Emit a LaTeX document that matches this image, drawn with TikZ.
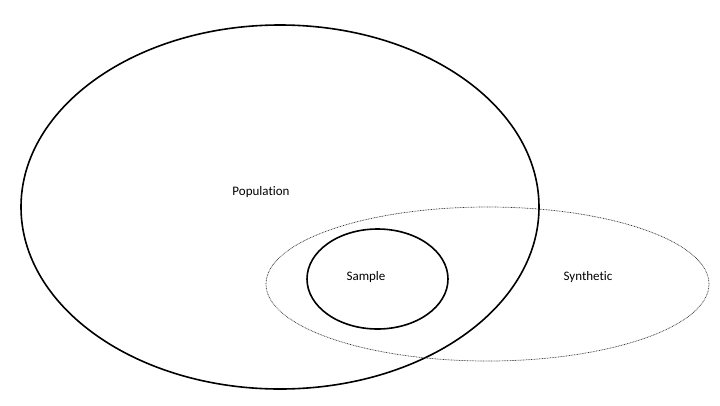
\documentclass[tikz,border=0pt]{standalone}
\usepackage{fontspec}
\setmainfont{Carlito}[Ligatures=NoCommon]
\usetikzlibrary{shapes.geometric}
\begin{document}
\begin{tikzpicture}[x=1pt,y=-1pt,
  solidell/.style={ellipse,draw=black,line width=1.6pt,inner sep=0pt},
  dotell/.style={ellipse,draw=black!80,line width=0.7pt,dash pattern=on 0.8pt off 0.8pt,inner sep=0pt},
  lab/.style={font=\fontsize{13}{15}\selectfont,inner sep=0pt}]
\useasboundingbox (0,0) rectangle (720,405);
\node[solidell,minimum width=518pt,minimum height=364pt] (pop) at (280,207) {};
\node[dotell,minimum width=443pt,minimum height=154pt] (syn) at (487.5,284) {};
\node[solidell,minimum width=141pt,minimum height=100pt] (samp) at (377.5,279) {};
\node[lab] (poplab) at (261,192) {Population};
\node[lab] (samplab) at (366,277) {Sample};
\node[lab] (synlab) at (588,277) {Synthetic};
\end{tikzpicture}
\end{document}
